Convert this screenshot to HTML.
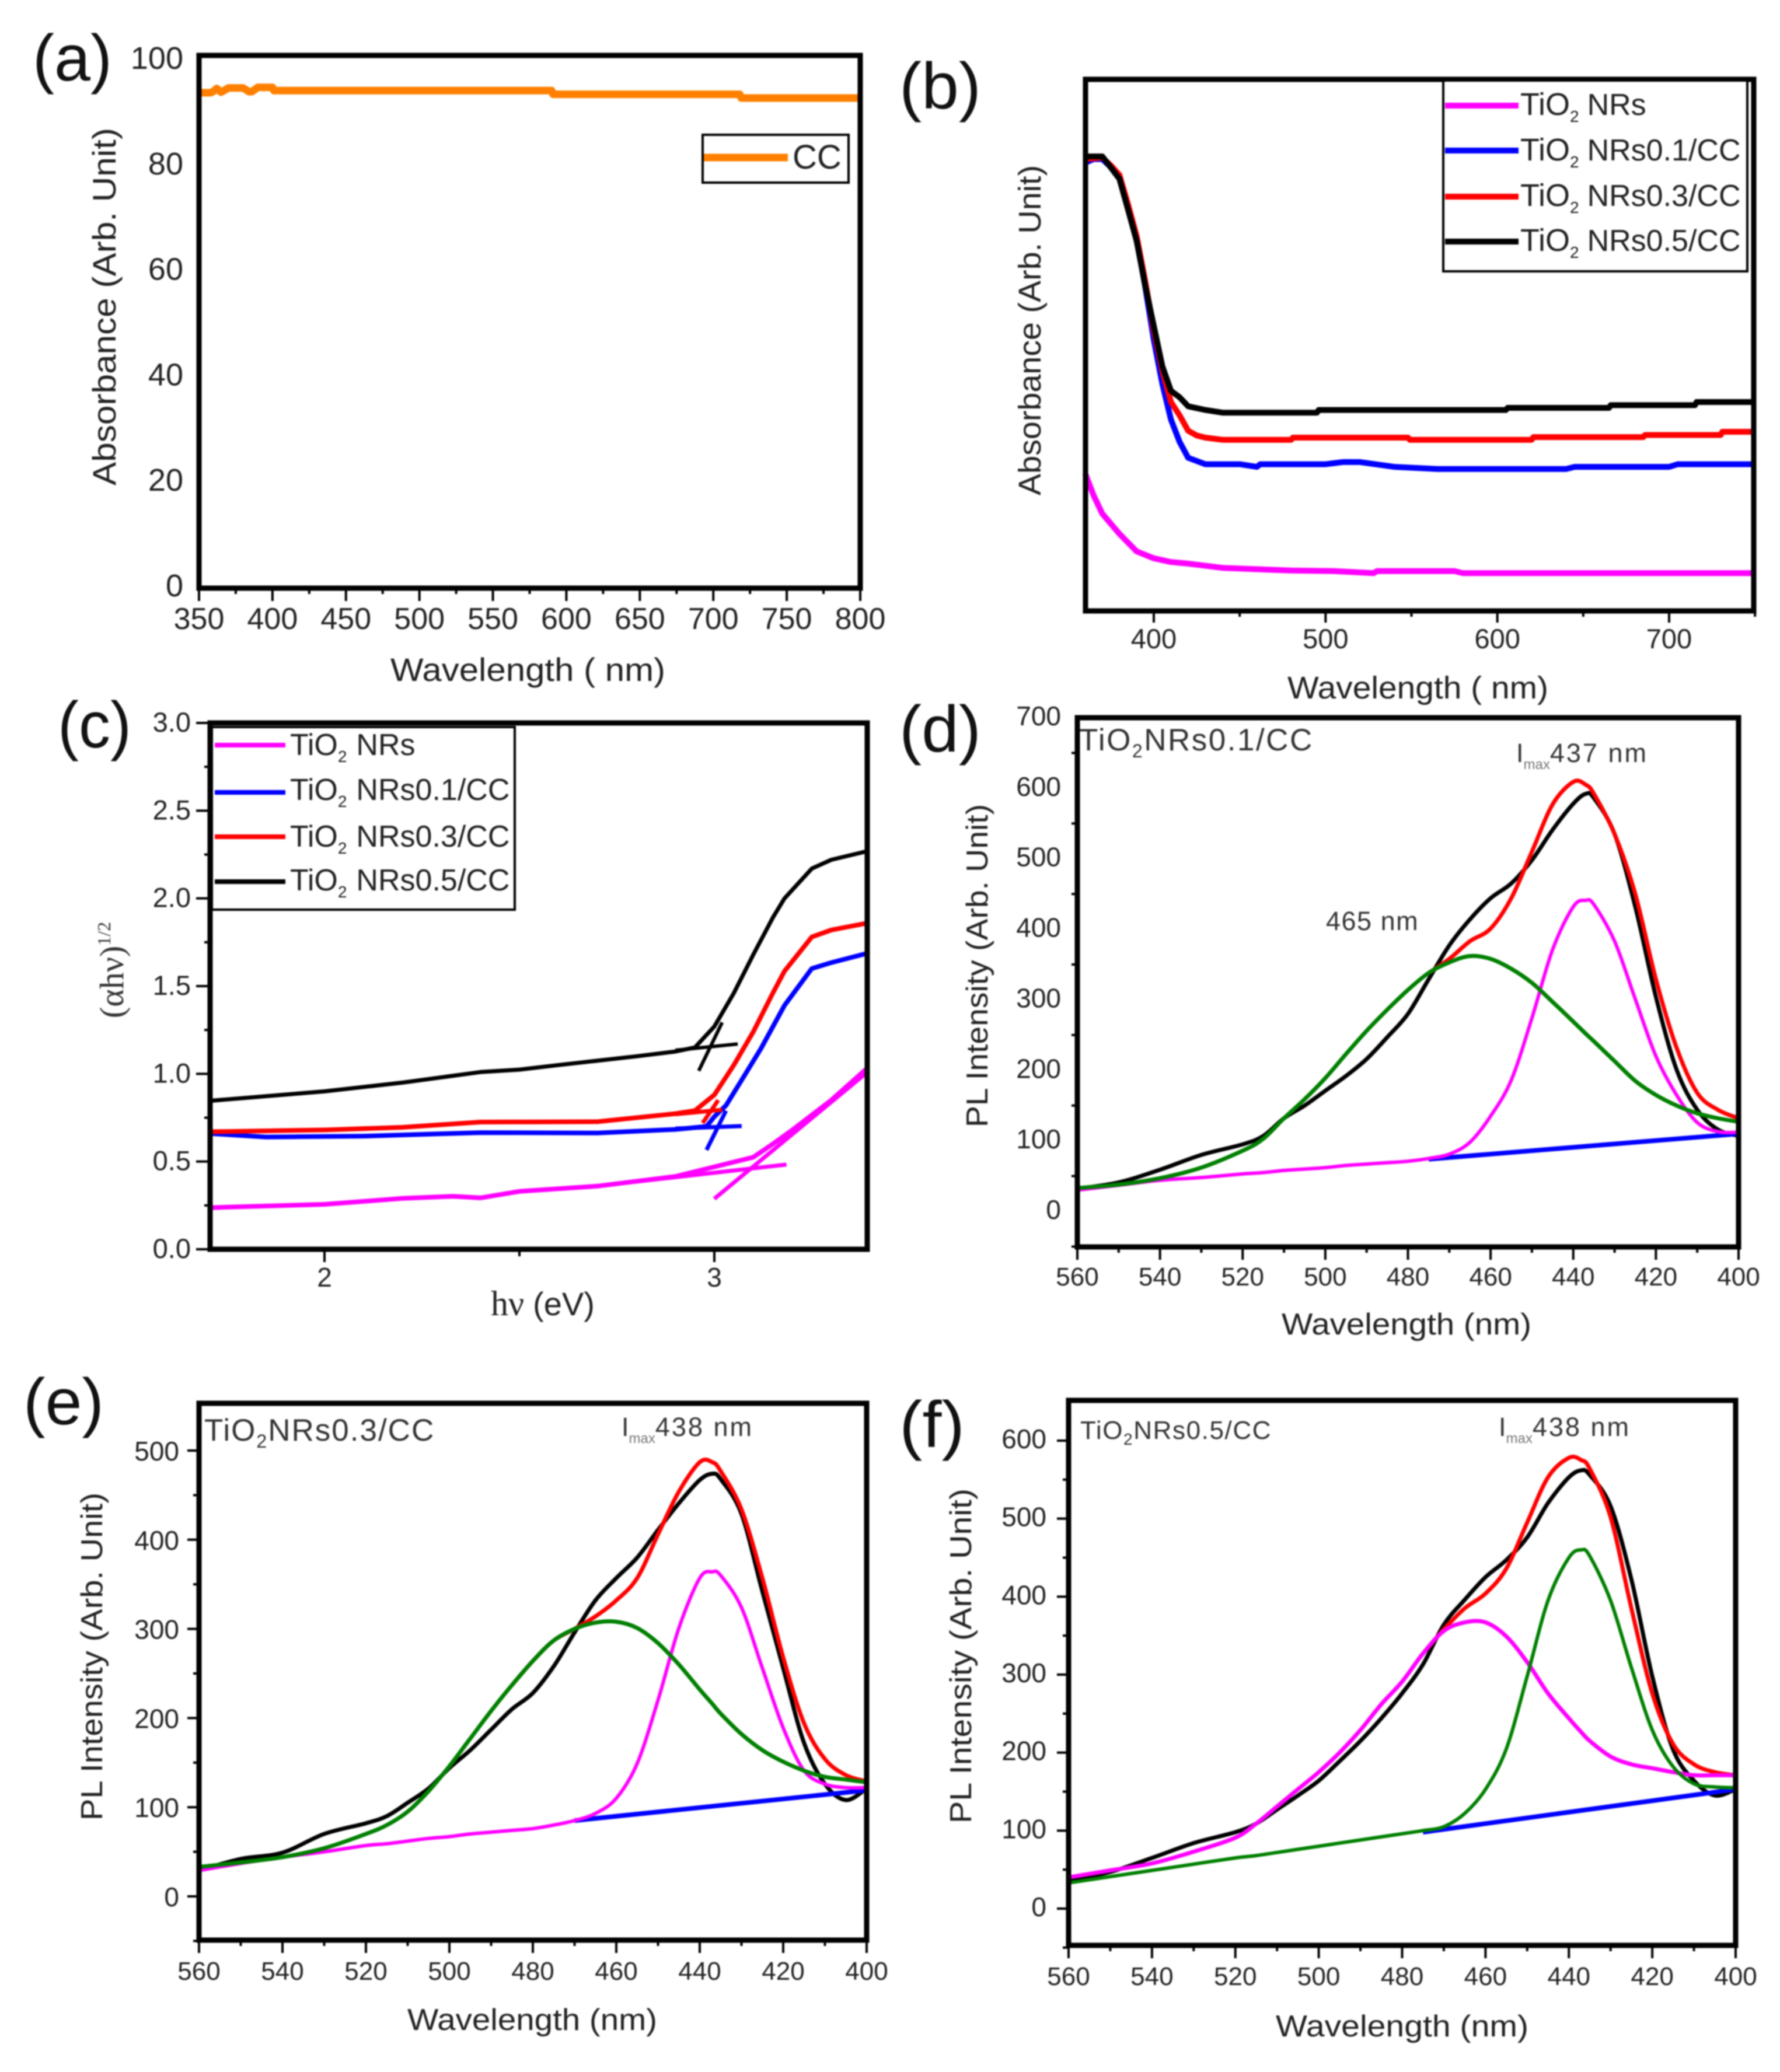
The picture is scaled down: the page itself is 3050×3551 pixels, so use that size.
<!DOCTYPE html>
<html lang="en">
<head>
<meta charset="utf-8">
<title>TiO2 nanorod absorbance and PL panels</title>
<style>
html,body{margin:0;padding:0;background:#fff;}
svg{display:block;width:3050px;height:3551px;filter:blur(1.1px);}
text{font-family:"Liberation Sans",sans-serif;fill:#222;}
.letter{font-size:112px;fill:#111;}
.frame{fill:none;stroke:#000;stroke-width:9;}
.leg{fill:#fff;stroke:#000;stroke-width:4;}
.t{font-size:52px;}
.lg{font-size:54px;}
.lc{font-size:52px;}
.an{font-size:45px;fill:#333;}
.cap{font-size:53px;fill:#333;}
</style>
</head>
<body>
<svg id="figure" viewBox="0 0 3050 3551">
<rect width="3050" height="3551" fill="#fff"/>

<!-- Panel a -->
<g>
  <g id="a-marks"></g>
  <rect class="frame" x="341" y="95" width="1133" height="913"/>
  <g id="a-axes"></g>
  <text class="letter" x="56" y="138" textLength="136" lengthAdjust="spacingAndGlyphs">(a)</text>
  <text class="t" transform="translate(198,832) rotate(-90)" textLength="613" lengthAdjust="spacingAndGlyphs" style="font-size:56px">Absorbance (Arb. Unit)</text>
  <text class="t" x="669" y="1167" textLength="471" lengthAdjust="spacingAndGlyphs" style="font-size:56px">Wavelength ( nm)</text>
  <g>
    <rect class="leg" x="1204" y="231" width="250" height="82"/>
    <line x1="1206" y1="270" x2="1350" y2="270" stroke="#ff8000" stroke-width="13"/>
    <text x="1358" y="289" style="font-size:58px">CC</text>
  </g>
</g>

<!-- Panel b -->
<g>
  <g id="b-marks"></g>
  <rect class="frame" x="1860" y="136" width="1145" height="911"/>
  <g id="b-axes"></g>
  <text class="letter" x="1541" y="186" textLength="140" lengthAdjust="spacingAndGlyphs">(b)</text>
  <text class="t" transform="translate(1783,849) rotate(-90)" textLength="566" lengthAdjust="spacingAndGlyphs" style="font-size:54px">Absorbance (Arb. Unit)</text>
  <text class="t" x="2206" y="1197" textLength="447" lengthAdjust="spacingAndGlyphs" style="font-size:54px">Wavelength ( nm)</text>
  <g>
    <rect class="leg" x="2473" y="138" width="521" height="327"/>
    <line x1="2476" y1="181" x2="2602" y2="181" stroke="#ff00ff" stroke-width="10"/>
    <text class="lg" x="2605" y="197">TiO<tspan dy="12" font-size="28">2</tspan><tspan dy="-12" dx="14" font-size="52">NRs</tspan></text>
    <line x1="2476" y1="258" x2="2602" y2="258" stroke="#0000ff" stroke-width="10"/>
    <text class="lg" x="2605" y="275">TiO<tspan dy="12" font-size="28">2</tspan><tspan dy="-12" dx="14" font-size="52">NRs0.1/CC</tspan></text>
    <line x1="2476" y1="337" x2="2602" y2="337" stroke="#ff0000" stroke-width="10"/>
    <text class="lg" x="2605" y="353">TiO<tspan dy="12" font-size="28">2</tspan><tspan dy="-12" dx="14" font-size="52">NRs0.3/CC</tspan></text>
    <line x1="2476" y1="414" x2="2602" y2="414" stroke="#000" stroke-width="10"/>
    <text class="lg" x="2605" y="430">TiO<tspan dy="12" font-size="28">2</tspan><tspan dy="-12" dx="14" font-size="52">NRs0.5/CC</tspan></text>
  </g>
</g>

<!-- Panel c -->
<g>
  <g id="c-marks"></g>
  <rect class="frame" x="360" y="1239" width="1126" height="902"/>
  <g id="c-axes"></g>
  <text class="letter" x="99" y="1281" textLength="126" lengthAdjust="spacingAndGlyphs">(c)</text>
  <text transform="translate(211,1745) rotate(-90)" style="font-family:'Liberation Serif',serif;font-size:58px;fill:#333">(αhν)<tspan dy="-22" font-size="32">1/2</tspan></text>
  <text x="841" y="2254" style="font-family:'Liberation Serif',serif;font-size:60px">hν <tspan style="font-family:'Liberation Sans',sans-serif;font-size:56px">(eV)</tspan></text>
  <g>
    <rect class="leg" x="363" y="1246" width="519" height="313"/>
    <line x1="368" y1="1277" x2="489" y2="1277" stroke="#ff00ff" stroke-width="8"/>
    <text class="lc" x="497" y="1294">TiO<tspan dy="12" font-size="28">2</tspan><tspan dy="-12" dx="16">NRs</tspan></text>
    <line x1="368" y1="1358" x2="489" y2="1358" stroke="#0000ff" stroke-width="8"/>
    <text class="lc" x="497" y="1371">TiO<tspan dy="12" font-size="28">2</tspan><tspan dy="-12" dx="16">NRs0.1/CC</tspan></text>
    <line x1="368" y1="1434" x2="489" y2="1434" stroke="#ff0000" stroke-width="8"/>
    <text class="lc" x="497" y="1451">TiO<tspan dy="12" font-size="28">2</tspan><tspan dy="-12" dx="16">NRs0.3/CC</tspan></text>
    <line x1="368" y1="1511" x2="489" y2="1511" stroke="#000" stroke-width="8"/>
    <text class="lc" x="497" y="1526">TiO<tspan dy="12" font-size="28">2</tspan><tspan dy="-12" dx="16">NRs0.5/CC</tspan></text>
  </g>
</g>

<!-- Panel d -->
<g>
  <g id="d-marks"></g>
  <rect class="frame" x="1846" y="1230" width="1133" height="907"/>
  <g id="d-axes"></g>
  <text class="letter" x="1541" y="1288" textLength="140" lengthAdjust="spacingAndGlyphs">(d)</text>
  <text class="t" transform="translate(1692,1932) rotate(-90)" textLength="554" lengthAdjust="spacingAndGlyphs">PL Intensity (Arb. Unit)</text>
  <text class="t" x="2196" y="2287" textLength="428" lengthAdjust="spacingAndGlyphs">Wavelength (nm)</text>
  <text class="cap" x="1849" y="1286" letter-spacing="2.5">TiO<tspan dy="12" font-size="32">2</tspan><tspan dy="-12">NRs0.1/CC</tspan></text>
  <text class="an" x="2598" y="1306">I<tspan dy="12" font-size="24" fill="#777">max</tspan><tspan dy="-12" letter-spacing="3">437 nm</tspan></text>
  <text class="an" x="2272" y="1594" letter-spacing="1.5">465 nm</text>
</g>

<!-- Panel e -->
<g>
  <g id="e-marks"></g>
  <rect class="frame" x="341" y="2405" width="1144" height="920"/>
  <g id="e-axes"></g>
  <text class="letter" x="40" y="2441" textLength="138" lengthAdjust="spacingAndGlyphs">(e)</text>
  <text class="t" transform="translate(175,3120) rotate(-90)" textLength="562" lengthAdjust="spacingAndGlyphs">PL Intensity (Arb. Unit)</text>
  <text class="t" x="698" y="3479" textLength="428" lengthAdjust="spacingAndGlyphs">Wavelength (nm)</text>
  <text class="cap" x="350" y="2469" letter-spacing="2">TiO<tspan dy="12" font-size="32">2</tspan><tspan dy="-12">NRs0.3/CC</tspan></text>
  <text class="an" x="1065" y="2461">I<tspan dy="12" font-size="24" fill="#777">max</tspan><tspan dy="-12" letter-spacing="3">438 nm</tspan></text>
</g>

<!-- Panel f -->
<g>
  <g id="f-marks"></g>
  <rect class="frame" x="1831" y="2400" width="1143" height="934"/>
  <g id="f-axes"></g>
  <text class="letter" x="1541" y="2480" textLength="112" lengthAdjust="spacingAndGlyphs">(f)</text>
  <text class="t" transform="translate(1664,3125) rotate(-90)" textLength="574" lengthAdjust="spacingAndGlyphs">PL Intensity (Arb. Unit)</text>
  <text class="t" x="2186" y="3490" textLength="433" lengthAdjust="spacingAndGlyphs">Wavelength (nm)</text>
  <text class="cap" x="1851" y="2466" style="font-size:44px" letter-spacing="1.6">TiO<tspan dy="10" font-size="28">2</tspan><tspan dy="-10">NRs0.5/CC</tspan></text>
  <text class="an" x="2568" y="2461">I<tspan dy="12" font-size="24" fill="#777">max</tspan><tspan dy="-12" letter-spacing="3">438 nm</tspan></text>
</g>
</svg>

<script>
// ---- Panel a data ----
const aWave = [350,358,360,362,365,370,380,384,386,390,400,401,590,591,718,719,800];
const aCC = [93,93,93.3,93.8,93.1,93.9,93.9,93.2,93.2,94,94,93.4,93.4,92.7,92.7,92,92];
const aXTicks = [350,400,450,500,550,600,650,700,750,800];
const aXMinor = [375,425,475,525,575,625,675,725,775];
const aYTicks = [0,20,40,60,80,100];

// ---- Panel b data (arbitrary units, 0-100 over the frame) ----
const bBlackWave = [360,370,375,380,385,390,395,400,405,410,415,420,430,440,495,496,605,606,665,666,715,716,750];
const bBlack = [85.5,85.5,83.4,81.3,75.5,69.6,61.2,53.6,46,41.4,40.2,38.5,37.8,37.3,37.3,37.8,37.8,38.2,38.2,38.7,38.7,39.3,39.3];
const bRedWave = [360,370,375,380,385,390,395,400,405,410,415,420,425,430,440,480,481,548,549,620,621,685,686,730,731,750];
const bRed = [85,85.3,83.8,82,76.5,70.5,62,52.8,45.2,39.3,36.8,33.9,33,32.6,32.2,32.2,32.6,32.6,32.2,32.2,32.7,32.7,33.1,33.1,33.7,33.7];
const bBlueWave = [360,365,370,375,380,385,390,395,400,405,410,415,420,430,450,460,462,500,510,520,540,565,640,645,700,705,750];
const bBlue = [84.3,85,85,83.5,82,76,70,61,51,42.7,36,31.8,28.8,27.6,27.6,27.1,27.6,27.6,28,28,27.1,26.7,26.7,27.1,27.1,27.6,27.6];
const bMagentaWave = [360,365,370,380,390,400,410,420,440,480,505,528,530,575,580,750];
const bMagenta = [25.9,21.7,18.3,14.5,11.2,9.9,9.2,8.9,8.1,7.6,7.5,7.1,7.5,7.5,7.1,7.1];
const bXTicks = [400,500,600,700];
const bXMinor = [450,550,650,750];

// ---- Panel c data ----
const cBlackEv = [1.7055,2,2.2,2.4,2.5,2.6,2.8,2.9,2.95,3,3.05,3.1,3.15,3.18,3.25,3.3,3.394];
const cBlack = [0.846,0.9,0.95,1.01,1.024,1.05,1.1,1.127,1.15,1.27,1.46,1.68,1.89,2,2.17,2.22,2.27];
const cBlackLowEv = [2.9,3.06];
const cBlackLow = [1.134,1.17];
const cBlackFitEv = [2.96,3.02];
const cBlackFit = [1.017,1.293];
const cRedEv = [1.7055,2,2.2,2.4,2.7,2.9,2.95,3,3.05,3.1,3.15,3.18,3.25,3.3,3.394];
const cRed = [0.67,0.68,0.695,0.725,0.727,0.773,0.79,0.88,1.05,1.24,1.46,1.585,1.78,1.82,1.86];
const cRedLowEv = [2.9,3.02];
const cRedLow = [0.77,0.795];
const cRedFitEv = [2.97,3.01];
const cRedFit = [0.72,0.85];
const cBlueEv = [1.7055,1.85,2.1,2.4,2.7,2.9,2.98,3,3.03,3.08,3.12,3.18,3.25,3.3,3.394];
const cBlue = [0.66,0.64,0.645,0.665,0.663,0.683,0.7,0.756,0.82,1,1.146,1.39,1.6,1.634,1.688];
const cBlueLowEv = [2.9,3.07];
const cBlueLow = [0.688,0.702];
const cBlueFitEv = [2.98,3.03];
const cBlueFit = [0.566,0.79];
const cMagentaEv = [1.7055,2,2.2,2.33,2.4,2.5,2.7,2.9,3,3.1,3.15,3.2,3.3,3.394];
const cMagenta = [0.237,0.256,0.29,0.302,0.293,0.33,0.36,0.415,0.47,0.525,0.6,0.68,0.85,1.036];
const cMagentaLowEv = [2.77,3.185];
const cMagentaLow = [0.378,0.483];
const cMagentaFitEv = [3,3.394];
const cMagentaFit = [0.288,1.012];
const cYLabels = ['0.0','0.5','1.0','1.5','2.0','2.5','3.0'];
const cYMinor = [0.25,0.75,1.25,1.75,2.25,2.75];
const cXTicks = [2,3];
const cXMinor = [2.5];

// ---- Shared PL wavelength grid ----
const plWave = [560,550,540,530,520,515,510,505,500,495,490,485,480,475,470,465,460,455,450,445,440,437,435,430,425,420,415,410,405,400];
const plXTicks = [560,540,520,500,480,460,440,420,400];
const plXMinor = [550,530,510,490,470,450,430,410];

// ---- Panel d data ----
const dBlack = [32,41,59,80,95,107,132,150,171,192,216,247,280,329,377,414,444,465,498,541,578,592,586,535,432,304,201,144,116,107];
const dGreen = [33,38,47,62,86,103,132,159,189,223,256,286,314,338,353,362,358,344,324,297,269,252,241,213,185,165,150,139,132,127];
const dMagenta = [30,37,44,48,53,55,58,60,62,65,67,69,71,75,81,98,135,186,274,371,432,441,435,383,301,220,165,126,113,112];
const dRedWave = [475,470,465,460,455,450,445,440,437,435,430,425,420,415,410,405,400];
const dRed = [338,358,383,401,444,510,577,609,605,592,535,450,329,232,168,144,132];
const dBlueWave = [475,400];
const dBlue = [74,110];
const dYTicks = [0,100,200,300,400,500,600,700];
const dYMinor = [-50,50,150,250,350,450,550,650];

// ---- Panel e data ----
const eBlack = [29,42,49,70,82,90,105,121,144,164,187,210,228,258,296,332,357,380,411,441,467,474,468,429,342,256,172,126,108,121];
const eGreen = [33,38,44,54,70,80,95,118,146,177,208,237,264,287,300,307,308,301,284,260,232,216,205,182,164,151,141,134,131,128];
const eMagenta = [29,37,44,50,57,59,62,65,67,70,72,74,76,80,85,93,110,149,220,301,357,364,360,324,256,189,141,126,122,122];
const eRedWave = [485,480,475,470,465,460,455,450,445,440,437,435,430,425,420,415,410,405,400];
const eRed = [237,264,287,300,314,332,357,406,454,487,487,477,434,357,268,194,154,136,129];
const eBlueWave = [470,400];
const eBlue = [85,119];
const eYTicks = [0,100,200,300,400,500];
const eYMinor = [-50,50,150,250,350,450];

// ---- Panel f data ----
const fBlack = [36,47,65,84,98,109,127,145,164,189,215,244,276,313,364,396,425,447,476,520,553,562,556,516,422,298,204,164,145,153];
const fMagenta = [40,49,58,73,91,109,131,153,175,200,229,262,291,327,356,367,367,349,316,276,244,226,215,195,185,180,175,171,171,171];
const fGreen = [33,41,49,57,65,68,72,76,80,84,88,92,96,100,105,122,153,205,298,395,450,460,452,395,309,229,182,160,156,155];
const fRedWave = [475,470,465,460,455,450,445,440,437,435,430,425,420,415,410,405,400];
const fRed = [327,358,385,404,436,495,553,578,575,564,502,385,276,211,185,175,171];
const fBlueWave = [475,400];
const fBlue = [98,153];
const fYTicks = [0,100,200,300,400,500,600];
const fYMinor = [-50,50,150,250,350,450,550];

const NS = document.getElementById('figure').namespaceURI;

function linear(d0, d1, p0, p1) {
  return function (v) { return p0 + (v - d0) * (p1 - p0) / (d1 - d0); };
}

function pathData(xs, ys, sx, sy, smooth) {
  const px = xs.map(sx);
  const py = ys.map(sy);
  let d = 'M' + px[0].toFixed(1) + ' ' + py[0].toFixed(1);
  for (let i = 1; i < px.length; i++) {
    if (!smooth) {
      d += 'L' + px[i].toFixed(1) + ' ' + py[i].toFixed(1);
    } else {
      const a = Math.max(i - 2, 0);
      const b = Math.min(i + 1, px.length - 1);
      const c1x = px[i - 1] + (px[i] - px[a]) / 6;
      const c1y = py[i - 1] + (py[i] - py[a]) / 6;
      const c2x = px[i] - (px[b] - px[i - 1]) / 6;
      const c2y = py[i] - (py[b] - py[i - 1]) / 6;
      d += 'C' + c1x.toFixed(1) + ' ' + c1y.toFixed(1) + ' ' + c2x.toFixed(1) + ' ' + c2y.toFixed(1) + ' ' + px[i].toFixed(1) + ' ' + py[i].toFixed(1);
    }
  }
  return d;
}

function drawSeries(groupId, xs, ys, sx, sy, color, width, name, smooth) {
  const el = document.createElementNS(NS, 'path');
  el.setAttribute('d', pathData(xs, ys, sx, sy, smooth));
  el.setAttribute('fill', 'none');
  el.setAttribute('stroke', color);
  el.setAttribute('stroke-width', width);
  el.setAttribute('stroke-linejoin', 'round');
  
  
  document.getElementById(groupId).appendChild(el);
}

function drawTick(groupId, x1, y1, x2, y2) {
  const el = document.createElementNS(NS, 'line');
  el.setAttribute('x1', x1);
  el.setAttribute('y1', y1);
  el.setAttribute('x2', x2);
  el.setAttribute('y2', y2);
  el.setAttribute('stroke', '#000');
  el.setAttribute('stroke-width', 4);
  
  
  document.getElementById(groupId).appendChild(el);
}

function drawLabel(groupId, x, y, str, size, anchor) {
  const el = document.createElementNS(NS, 'text');
  el.setAttribute('x', x);
  el.setAttribute('y', y);
  el.setAttribute('text-anchor', anchor);
  el.setAttribute('font-size', size);
  
  
  el.textContent = str;
  document.getElementById(groupId).appendChild(el);
}

function xAxis(groupId, sx, bottom, ticks, minors, majorLen, minorLen, baseline, size) {
  ticks.forEach(function (t) {
    drawTick(groupId, sx(t), bottom, sx(t), bottom + majorLen);
    drawLabel(groupId, sx(t), baseline, String(t), size, 'middle');
  });
  minors.forEach(function (t) {
    drawTick(groupId, sx(t), bottom, sx(t), bottom + minorLen);
  });
}

function yAxis(groupId, sy, left, ticks, minors, majorLen, minorLen, labelRight, size, showMajorTick, labelScale, labelShift) {
  ticks.forEach(function (t) {
    if (showMajorTick) drawTick(groupId, left, sy(t), left - majorLen, sy(t));
    drawLabel(groupId, labelRight, labelScale(t) + labelShift, String(t), size, 'end');
  });
  minors.forEach(function (t) {
    drawTick(groupId, left, sy(t), left - minorLen, sy(t));
  });
}

// Panel a
const ax = linear(350, 800, 341, 1474);
const ay = linear(0, 100, 1008, 95);
const ayLabel = linear(0, 100, 1002, 98);
drawSeries('a-marks', aWave, aCC, ax, ay, '#ff8000', 13, 'series-cc', false);
xAxis('a-axes', ax, 1008, aXTicks, aXMinor, 22, 10, 1078, 52);
yAxis('a-axes', ay, 341, aYTicks, [], 0, 0, 314, 54, false, ayLabel, 20);

// Panel b
const bx = linear(400, 700, 1977, 2860);
const by = linear(0, 100, 1047, 136);
drawSeries('b-marks', bMagentaWave, bMagenta, bx, by, '#ff00ff', 10, 'series-tio2-nrs', false);
drawSeries('b-marks', bBlueWave, bBlue, bx, by, '#0000ff', 10, 'series-tio2-nrs-0-1', false);
drawSeries('b-marks', bRedWave, bRed, bx, by, '#ff0000', 10, 'series-tio2-nrs-0-3', false);
drawSeries('b-marks', bBlackWave, bBlack, bx, by, '#000000', 10, 'series-tio2-nrs-0-5', false);
xAxis('b-axes', bx, 1047, bXTicks, bXMinor, 20, 10, 1111, 47);

// Panel c
const cx = linear(2, 3, 556, 1224);
const cy = linear(0, 3, 2141, 1239);
drawSeries('c-marks', cMagentaEv, cMagenta, cx, cy, '#ff00ff', 8, 'series-tauc-nrs', false);
drawSeries('c-marks', cMagentaLowEv, cMagentaLow, cx, cy, '#ff00ff', 7, 'baseline-fit-nrs', false);
drawSeries('c-marks', cMagentaFitEv, cMagentaFit, cx, cy, '#ff00ff', 7, 'edge-fit-nrs', false);
drawSeries('c-marks', cBlueEv, cBlue, cx, cy, '#0000ff', 8, 'series-tauc-0-1', false);
drawSeries('c-marks', cBlueLowEv, cBlueLow, cx, cy, '#0000ff', 7, 'baseline-fit-0-1', false);
drawSeries('c-marks', cBlueFitEv, cBlueFit, cx, cy, '#0000ff', 7, 'edge-fit-0-1', false);
drawSeries('c-marks', cRedEv, cRed, cx, cy, '#ff0000', 8, 'series-tauc-0-3', false);
drawSeries('c-marks', cRedLowEv, cRedLow, cx, cy, '#ff0000', 7, 'baseline-fit-0-3', false);
drawSeries('c-marks', cRedFitEv, cRedFit, cx, cy, '#ff0000', 7, 'edge-fit-0-3', false);
drawSeries('c-marks', cBlackEv, cBlack, cx, cy, '#000000', 7, 'series-tauc-0-5', false);
drawSeries('c-marks', cBlackLowEv, cBlackLow, cx, cy, '#000000', 6, 'baseline-fit-0-5', false);
drawSeries('c-marks', cBlackFitEv, cBlackFit, cx, cy, '#000000', 6, 'edge-fit-0-5', false);
xAxis('c-axes', cx, 2141, cXTicks, cXMinor, 22, 12, 2205, 46);
cYLabels.forEach(function (lab) {
  const v = parseFloat(lab);
  drawTick('c-axes', 360, cy(v), 336, cy(v));
  drawLabel('c-axes', 327, cy(v) + 15, lab, 47, 'end');
});
cYMinor.forEach(function (v) {
  drawTick('c-axes', 360, cy(v), 350, cy(v));
});

// Panel d
const dx = linear(560, 400, 1846, 2979);
const dy = linear(0, 700, 2076, 1230);
drawSeries('d-marks', plWave, dBlack, dx, dy, '#000000', 7, 'series-d-measured', true);
drawSeries('d-marks', dRedWave, dRed, dx, dy, '#ff0000', 7, 'series-d-fit-sum', true);
drawSeries('d-marks', dBlueWave, dBlue, dx, dy, '#0000ff', 8, 'series-d-baseline', false);
drawSeries('d-marks', plWave, dMagenta, dx, dy, '#ff00ff', 6, 'series-d-peak-437', true);
drawSeries('d-marks', plWave, dGreen, dx, dy, '#008000', 7, 'series-d-peak-465', true);
xAxis('d-axes', dx, 2137, plXTicks, plXMinor, 22, 10, 2203, 44);
yAxis('d-axes', dy, 1846, dYTicks, dYMinor, 0, 10, 1818, 46, false, dy, 13);

// Panel e
const ex = linear(560, 400, 341, 1485);
const ey = linear(0, 500, 3250, 2486);
drawSeries('e-marks', plWave, eBlack, ex, ey, '#000000', 7, 'series-e-measured', true);
drawSeries('e-marks', eRedWave, eRed, ex, ey, '#ff0000', 7, 'series-e-fit-sum', true);
drawSeries('e-marks', eBlueWave, eBlue, ex, ey, '#0000ff', 8, 'series-e-baseline', false);
drawSeries('e-marks', plWave, eMagenta, ex, ey, '#ff00ff', 6, 'series-e-peak-438', true);
drawSeries('e-marks', plWave, eGreen, ex, ey, '#008000', 7, 'series-e-peak-465', true);
xAxis('e-axes', ex, 3325, plXTicks, plXMinor, 22, 10, 3393, 44);
yAxis('e-axes', ey, 341, eYTicks, eYMinor, 20, 10, 307, 46, true, ey, 17);

// Panel f
const fx = linear(560, 400, 1831, 2974);
const fy = linear(0, 600, 3271, 2469);
drawSeries('f-marks', plWave, fBlack, fx, fy, '#000000', 7, 'series-f-measured', true);
drawSeries('f-marks', fRedWave, fRed, fx, fy, '#ff0000', 7, 'series-f-fit-sum', true);
drawSeries('f-marks', fBlueWave, fBlue, fx, fy, '#0000ff', 8, 'series-f-baseline', false);
drawSeries('f-marks', plWave, fMagenta, fx, fy, '#ff00ff', 7, 'series-f-peak-465', true);
drawSeries('f-marks', plWave, fGreen, fx, fy, '#008000', 6, 'series-f-peak-438', true);
xAxis('f-axes', fx, 3334, plXTicks, plXMinor, 22, 10, 3402, 44);
yAxis('f-axes', fy, 1831, fYTicks, fYMinor, 20, 10, 1793, 46, true, fy, 13);
</script>
</body>
</html>
